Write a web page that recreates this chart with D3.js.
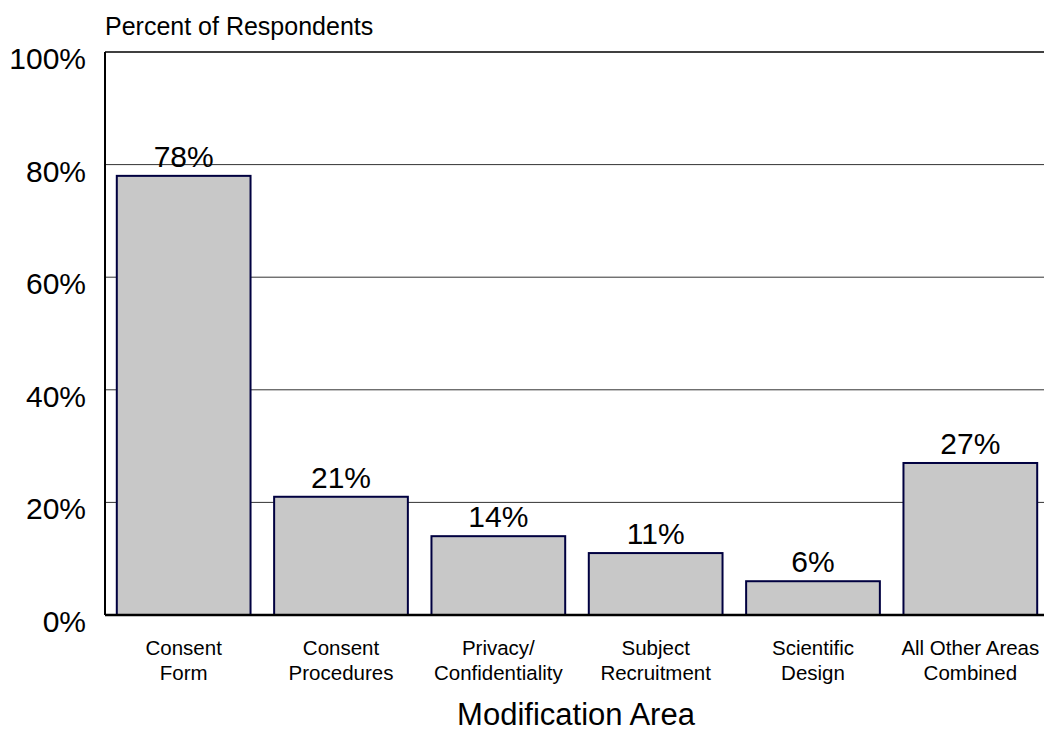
<!DOCTYPE html>
<html>
<head>
<meta charset="utf-8">
<script src="https://cdn.jsdelivr.net/npm/d3@7"></script>
<style>
  body { margin: 0; background: #fff; }
  text { font-family: "Liberation Sans", Arial, sans-serif; fill: #000; }
</style>
</head>
<body>
<svg></svg>
<script>
// chart data
var categories = [
    ["Consent", "Form"],
    ["Consent", "Procedures"],
    ["Privacy/", "Confidentiality"],
    ["Subject", "Recruitment"],
    ["Scientific", "Design"],
    ["All Other Areas", "Combined"]
];
var values = [78, 21, 14, 11, 6, 27];
var yTicks = [0, 20, 40, 60, 80, 100];

var svgWidth = 1044,
    svgHeight = 733;
var margin = { top: 52, right: -5, bottom: 118, left: 105 };
var width = svgWidth - margin.left - margin.right,
    height = svgHeight - margin.top - margin.bottom;

var svg = d3.select('svg')
    .attr('width', svgWidth)
    .attr('height', svgHeight);

var g = svg.append('g')
    .attr('transform', 'translate(' + margin.left + ',' + margin.top + ')');

var x = d3.scaleBand()
    .domain(d3.range(categories.length))
    .range([0, width])
    .paddingInner(0.15)
    .paddingOuter(0.075);

var y = d3.scaleLinear()
    .domain([0, 100])
    .range([height, 0]);

// gridlines
g.append('g')
    .selectAll('line')
    .data(yTicks.filter(d => d > 0 && d < 100))
    .enter()
    .append('line')
    .attr('x1', 0)
    .attr('x2', width)
    .attr('y1', d => y(d))
    .attr('y2', d => y(d))
    .attr('stroke', '#333')
    .attr('stroke-width', 1);

// top border
g.append('line')
    .attr('x1', 0).attr('x2', width)
    .attr('y1', y(100)).attr('y2', y(100))
    .attr('stroke', '#000').attr('stroke-width', 1.5);

// bars
g.append('g')
    .selectAll('rect')
    .data(values)
    .enter()
    .append('rect')
    .attr('x', (d, i) => x(i))
    .attr('y', d => y(d))
    .attr('width', x.bandwidth())
    .attr('height', d => height - y(d))
    .attr('fill', '#c8c8c8')
    .attr('stroke', '#000040')
    .attr('stroke-width', 2);

// value labels
g.append('g')
    .selectAll('text')
    .data(values)
    .enter()
    .append('text')
    .attr('x', (d, i) => x(i) + x.bandwidth() / 2)
    .attr('y', d => y(d) - 9)
    .attr('text-anchor', 'middle')
    .attr('font-size', 30)
    .text(d => d + '%');

// axes lines
g.append('line')
    .attr('x1', 0).attr('x2', 0)
    .attr('y1', 0).attr('y2', height)
    .attr('stroke', '#000').attr('stroke-width', 2);
g.append('line')
    .attr('x1', 0).attr('x2', width)
    .attr('y1', height).attr('y2', height)
    .attr('stroke', '#000').attr('stroke-width', 2.5);

// y tick labels
g.append('g')
    .selectAll('text')
    .data(yTicks)
    .enter()
    .append('text')
    .attr('x', -19)
    .attr('y', d => y(d) + 17)
    .attr('text-anchor', 'end')
    .attr('font-size', 30)
    .text(d => d + '%');

// category labels
var cat = g.append('g')
    .selectAll('text')
    .data(categories)
    .enter()
    .append('text')
    .attr('text-anchor', 'middle')
    .attr('font-size', 20.5)
    .attr('transform', (d, i) => 'translate(' + (x(i) + x.bandwidth() / 2) + ',' + (height + 40) + ')');
cat.selectAll('tspan')
    .data(d => d)
    .enter()
    .append('tspan')
    .attr('x', 0)
    .attr('dy', (d, i) => i === 0 ? 0 : 25)
    .text(d => d);

// axis titles
svg.append('text')
    .attr('x', 576)
    .attr('y', 725)
    .attr('text-anchor', 'middle')
    .attr('font-size', 31)
    .text('Modification Area');

svg.append('text')
    .attr('x', 105)
    .attr('y', 35)
    .attr('font-size', 25)
    .text('Percent of Respondents');
</script>
</body>
</html>
